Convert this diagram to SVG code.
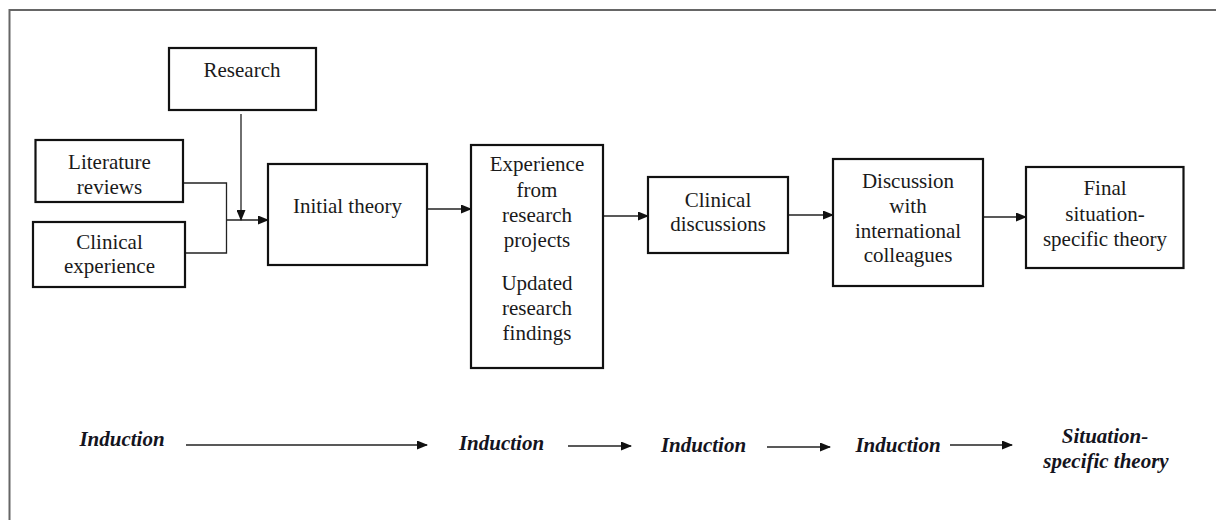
<svg xmlns="http://www.w3.org/2000/svg" width="1216" height="520" viewBox="0 0 1216 520">
<defs>
<marker id="ah" markerWidth="11" markerHeight="9" refX="10" refY="4.5" orient="auto" markerUnits="userSpaceOnUse">
<path d="M0,0 L11,4.5 L0,9 Z" fill="#111"/>
</marker>
<style>
.box{fill:#fff;stroke:#111;stroke-width:2.2}
.t{font-family:"Liberation Serif","Times New Roman",serif;font-size:21px;fill:#1a1a1a;text-anchor:middle}
.bi{font-family:"Liberation Serif","Times New Roman",serif;font-size:21px;font-weight:bold;font-style:italic;fill:#141420;text-anchor:middle}
.c{fill:none;stroke:#222;stroke-width:1.3}
.ca{fill:none;stroke:#222;stroke-width:1.3;marker-end:url(#ah)}
.frame{fill:none;stroke:#666;stroke-width:2}
</style>
</defs>
<rect width="1216" height="520" fill="#fff"/>
<path class="frame" d="M9.5,520 L9.5,10 L1216,10"/>

<g id="connectors">
<path class="c" d="M184,183 H226.5 V253 H185"/>
<path class="ca" d="M226.5,220 H268"/>
<path class="ca" d="M241,114 V220"/>
<path class="ca" d="M427,209 H471"/>
<path class="ca" d="M603,216 H648"/>
<path class="ca" d="M788,215 H833"/>
<path class="ca" d="M983,217 H1026"/>
<path class="ca" d="M186,445 H427"/>
<path class="ca" d="M568,446 H631"/>
<path class="ca" d="M767,447 H830"/>
<path class="ca" d="M950,445 H1012"/>
</g>

<g id="research">
<rect class="box" x="169" y="48" width="147" height="62"/>
<text class="t" x="242" y="77">Research</text>
</g>
<g id="literature">
<rect class="box" x="35.5" y="140" width="147.5" height="62"/>
<text class="t" x="109.5" y="169">Literature</text>
<text class="t" x="109.5" y="194">reviews</text>
</g>
<g id="clinical-experience">
<rect class="box" x="33" y="222" width="152" height="65"/>
<text class="t" x="109.5" y="249">Clinical</text>
<text class="t" x="109.5" y="273">experience</text>
</g>
<g id="initial-theory">
<rect class="box" x="268" y="164" width="159" height="101"/>
<text class="t" x="347.5" y="213">Initial theory</text>
</g>
<g id="experience">
<rect class="box" x="471" y="145" width="132" height="223"/>
<text class="t" x="537" y="171">Experience</text>
<text class="t" x="537" y="197">from</text>
<text class="t" x="537" y="222">research</text>
<text class="t" x="537" y="247">projects</text>
<text class="t" x="537" y="290">Updated</text>
<text class="t" x="537" y="315">research</text>
<text class="t" x="537" y="340">findings</text>
</g>
<g id="clinical-discussions">
<rect class="box" x="648" y="177" width="140" height="76"/>
<text class="t" x="718" y="207">Clinical</text>
<text class="t" x="718" y="231">discussions</text>
</g>
<g id="discussion">
<rect class="box" x="833" y="159" width="150" height="127"/>
<text class="t" x="908" y="188">Discussion</text>
<text class="t" x="908" y="213">with</text>
<text class="t" x="908" y="238">international</text>
<text class="t" x="908" y="262">colleagues</text>
</g>
<g id="final">
<rect class="box" x="1026" y="167" width="157.5" height="101"/>
<text class="t" x="1105" y="195">Final</text>
<text class="t" x="1105" y="221">situation-</text>
<text class="t" x="1105" y="246">specific theory</text>
</g>

<g id="induction-row">
<text class="bi" x="122" y="446">Induction</text>
<text class="bi" x="501.5" y="450">Induction</text>
<text class="bi" x="703.5" y="452">Induction</text>
<text class="bi" x="898" y="452">Induction</text>
<text class="bi" x="1105" y="443">Situation-</text>
<text class="bi" x="1106" y="468">specific theory</text>
</g>
</svg>
